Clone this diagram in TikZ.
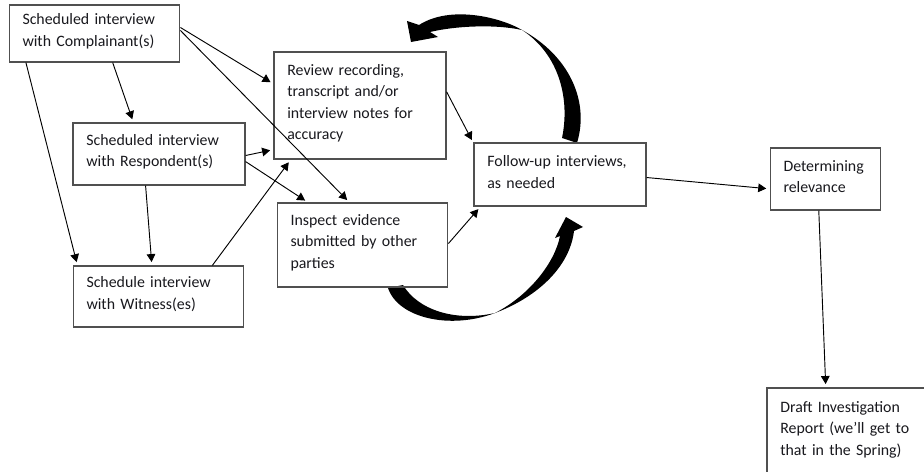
\documentclass[tikz,border=0pt]{standalone}
\usepackage{fontspec}
\setmainfont{Carlito}
\usetikzlibrary{arrows.meta}
\definecolor{boxline}{RGB}{80,80,80}
\definecolor{boxtext}{RGB}{25,25,30}
\tikzset{
  stage box/.style 2 args={
    draw=boxline,
    line width=0.9pt,
    inner xsep=10pt,
    inner ysep=0pt,
    align=left,
    text=boxtext,
    text width={#1},
    minimum height={#2},
    font=\fontsize{11.9pt}{16pt}\selectfont,
    execute at end node={\par\vspace*{3.5pt}},
  },
  flow/.style={
    -{Triangle[length=6pt,width=6.5pt]},
    line width=0.7pt,
    shorten >=2.5pt,
  },
  loop arrow/.style={
    fill=black,
  }
}

\begin{document}
\begin{tikzpicture}[x=0.75pt,y=-0.75pt]
        \clip (0,0) rectangle (924,471);
        \fill [white] (0,0) rectangle (924,471);

        \fill [loop arrow] (577,143) .. controls (590,100) and (568,55) .. (522,30)
          .. controls (500,17) and (450,5) .. (419,25)
          -- (407,21) -- (411,42) -- (438,37) -- (430,32)
          .. controls (455,26) and (495,24) .. (522,30)
          .. controls (560,55) and (570,100) .. (562,138) -- cycle;
        \fill [loop arrow] (388,288) .. controls (398,318) and (450,330) .. (495,313)
          .. controls (540,296) and (570,265) .. (574,231)
          -- (583,227) -- (566,217) -- (555,238) -- (560,236)
          .. controls (555,262) and (530,295) .. (495,313)
          .. controls (455,322) and (418,310) .. (403,285) -- cycle;

        \node [stage box={108pt}{42.75pt}] (comp) at (94.5,33.5) {Scheduled interview\\with Complainant(s)};
        \node [stage box={109pt}{46.5pt}] (resp) at (159,154) {Scheduled interview\\with Respondent(s)};
        \node [stage box={108pt}{45.75pt}] (wit) at (158.5,296.5) {Schedule interview\\with Witness(es)};
        \node [stage box={109pt}{80.25pt}] (review) at (360,105.5) {Review recording,\\transcript and/or\\interview notes for\\accuracy};
        \node [stage box={108pt}{63pt}] (inspect) at (362.5,245) {Inspect evidence\\submitted by other\\parties};
        \node [stage box={109pt}{47.25pt}] (follow) at (560,174.5) {Follow-up interviews,\\as needed};
        \node [stage box={63pt}{46.5pt}] (relev) at (825.5,179) {Determining\\relevance};
        \node [stage box={115pt}{66pt}] (draft) at (857,432) {Draft Investigation\\Report (we’ll get to\\that in the Spring)};

        \draw [flow] (comp.-58) -- (resp.129);
        \draw [flow] (comp.-157) -- (wit.159);
        \draw [flow] (comp.4) -- (review.166);
        \draw [flow] (comp.2) -- (inspect.107);
        \draw [flow] (resp.-1) -- (review.-153);
        \draw [flow] (resp.-5) -- (inspect.142);
        \draw [flow] (resp.-113) -- (wit.102);
        \draw [flow] (wit.30) -- (review.-142);
        \draw [flow] (review.9) -- (follow.160);
        \draw [flow] (inspect.1) -- (follow.-158);
        \draw [flow] (follow.-2) -- (relev.-170);
        \draw [flow] (relev.-102) -- (draft.125);
      \end{tikzpicture}
\end{document}
